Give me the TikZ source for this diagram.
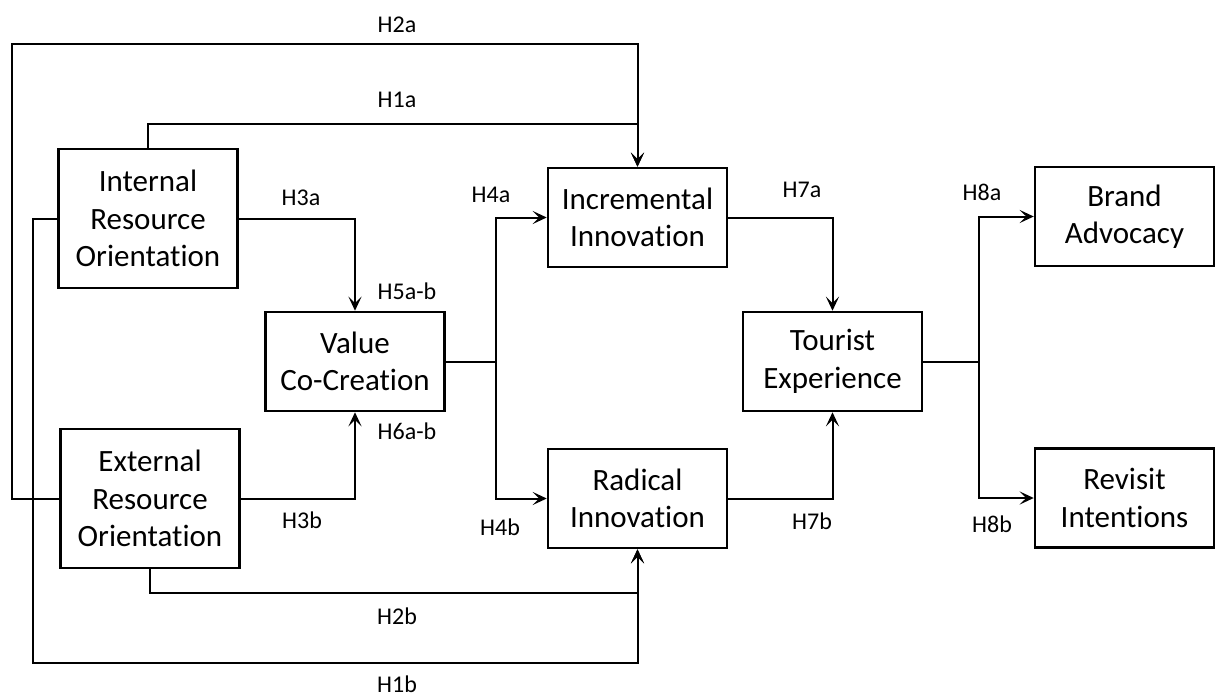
\documentclass[tikz,border=0pt]{standalone}
\usepackage{fontspec}
\setmainfont{Carlito}[Ligatures={NoCommon}]
\usetikzlibrary{arrows.meta}

\begin{document}
\begin{tikzpicture}
  [x=1pt,y=-1pt,
   box/.style={draw,line width=2.5pt,minimum width=179pt,minimum height=99pt,align=center,inner sep=2pt,font=\fontsize{31}{37.5}\selectfont},
   tall/.style={box,minimum height=139pt},
   hyp/.style={inner sep=0pt,font=\fontsize{24}{28}\selectfont},
   stem/.style={line width=2pt},
   link/.style={stem,-{Stealth[length=14pt,width=13pt,inset=6.5pt]}}]

  \useasboundingbox (0,0) rectangle (1224,698);

  \node[tall] (iro) at (148,218.5) {Internal\\Resource\\Orientation};
  \node[tall] (ero) at (150,498.5) {External\\Resource\\Orientation};
  \node[box] (vcc) at (355,361.5) {Value\\Co-Creation};
  \node[box] (inc) at (637.5,217.5) {Incremental\\Innovation};
  \node[box] (rad) at (637.5,498.5) {Radical\\Innovation};
  \node[box] (tex) at (832.5,361.5) {Tourist\\Experience};
  \node[box] (bra) at (1124.5,216.5) {Brand\\Advocacy};
  \node[box] (rev) at (1124.5,498) {Revisit\\Intentions};

  \coordinate (topl) at (12,44);
  \coordinate (topr) at (637.5,124);
  \coordinate (botl) at (33,663);
  \coordinate (botr) at (637.5,593);
  \coordinate (forkl) at (496,361.5);
  \coordinate (forkr) at (979,361.5);

  \draw[link] (ero.west) -| (topl) -| (inc.north);
  \draw[link] (iro.north) |- (topr) -- (inc.north);
  \draw[link] (iro.west) -| (botl) -| (rad.south);
  \draw[link] (ero.south) |- (botr) -- (rad.south);
  \foreach \from/\to in {iro.east/vcc.north,ero.east/vcc.south,inc.east/tex.north,rad.east/tex.south}
    \draw[link] (\from) -| (\to);
  \draw[stem] (vcc.east) -- (forkl);
  \draw[stem] (tex.east) -- (forkr);
  \foreach \to in {inc,rad}
    \draw[link] (forkl) |- (\to.west);
  \foreach \to in {bra,rev}
    \draw[link] (forkr) |- (\to.west);

  \node[hyp] (h2a) at (397,25) {H2a};
  \node[hyp] (h1a) at (397,100) {H1a};
  \node[hyp] (h3a) at (301,198) {H3a};
  \node[hyp] (h5) at (407,291) {H5a-b};
  \node[hyp] (h6) at (407,431) {H6a-b};
  \node[hyp] (h3b) at (302,520) {H3b};
  \node[hyp] (h4a) at (491,195) {H4a};
  \node[hyp] (h4b) at (500,527) {H4b};
  \node[hyp] (h2b) at (397,616) {H2b};
  \node[hyp] (h1b) at (397,684) {H1b};
  \node[hyp] (h7a) at (802,190) {H7a};
  \node[hyp] (h7b) at (812,521) {H7b};
  \node[hyp] (h8a) at (982,192) {H8a};
  \node[hyp] (h8b) at (992,524) {H8b};
\end{tikzpicture}
\end{document}
